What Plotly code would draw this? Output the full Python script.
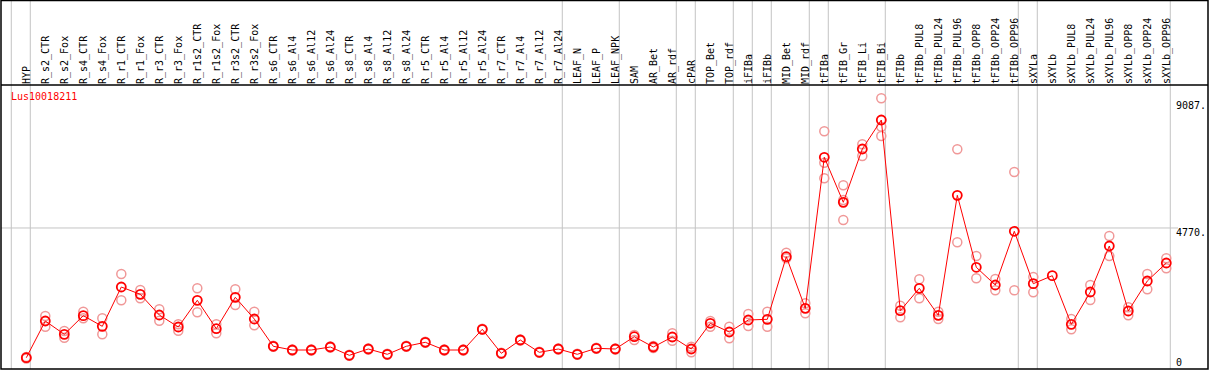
import plotly.graph_objects as go

gene = "Lus10018211"

categories = [
    "HYP", "R_s2_CTR", "R_s2_Fox", "R_s4_CTR", "R_s4_Fox", "R_r1_CTR", "R_r1_Fox",
    "R_r3_CTR", "R_r3_Fox", "R_r1s2_CTR", "R_r1s2_Fox", "R_r3s2_CTR", "R_r3s2_Fox",
    "R_s6_CTR", "R_s6_Al4", "R_s6_Al12", "R_s6_Al24", "R_s8_CTR", "R_s8_Al4",
    "R_s8_Al12", "R_s8_Al24", "R_r5_CTR", "R_r5_Al4", "R_r5_Al12", "R_r5_Al24",
    "R_r7_CTR", "R_r7_Al4", "R_r7_Al12", "R_r7_Al24", "LEAF_N", "LEAF_P", "LEAF_NPK",
    "SAM", "AR_Bet", "AR_rdf", "cPAR", "TOP_Bet", "TOP_rdf", "iFIBa", "iFIBb",
    "MID_Bet", "MID_rdf", "tFIBa", "tFIB_Gr", "tFIB_Li", "tFIB_Bi", "tFIBb",
    "tFIBb_PUL8", "tFIBb_PUL24", "tFIBb_PUL96", "tFIBb_OPP8", "tFIBb_OPP24",
    "tFIBb_OPP96", "sXYLa", "sXYLb", "sXYLb_PUL8", "sXYLb_PUL24", "sXYLb_PUL96",
    "sXYLb_OPP8", "sXYLb_OPP24", "sXYLb_OPP96",
]

mean_vals = [
    360, 1607, 1155, 1789, 1427, 2763, 2515, 1812, 1404, 2311, 1346, 2413, 1676,
    748, 622, 622, 724, 442, 656, 476, 748, 884, 622, 622, 1326, 510, 962, 544, 656,
    476, 680, 656, 1074, 724, 1064, 656, 1530, 1234, 1642, 1665, 3793, 2039,
    7172, 5642, 7454, 8440, 1958, 2719, 1801, 5880, 3433, 2831, 4657,
    2876, 3148, 1495, 2593, 4157, 1948, 2967, 3579,
]

rep_a = [
    385, 1780, 1268, 1925, 1699, 3205, 2661, 2005, 1495, 2719, 1495, 2685, 1925,
    765, 640, 640, 740, 460, 675, 495, 765, 900, 640, 640, 1345, 530, 980, 560, 675,
    495, 700, 675, 1132, 760, 1190, 734, 1608, 1414, 1846, 1925, 3929, 2209,
    8056, 6220, 7614, 9177, 2128, 3025, 1925, 7444, 3817, 3035, 6672,
    3103, None, 1676, 2831, 4497, 2073, 3205, 3739,
]

rep_b = [
    335, 1415, 1041, 1699, 1155, 2311, 2379, 1618, 1278, 1903, 1190, 2152, 1461,
    730, 605, 605, 705, 425, 640, 460, 730, 865, 605, 605, 1310, 495, 945, 525, 640,
    460, 665, 640, 962, 690, 938, 544, 1414, 1020, 1438, 1414, 3739, 1869,
    6989, 5721, 7216, 8212, 1733, 2379, 1676, 4283, 3059, 2651, 2651,
    2583, None, 1326, 2322, 3817, 1801, 2685, 3399,
]

rep_c = [None] * 42 + [6458, 5041, None, 7896] + [None] * 15

group_breaks = [-1, 0, 28, 31, 34, 35, 37, 38, 39, 41, 42, 45, 52, 53, 60]

ytick_vals = [4770, 9087]
ytick_text = ["4770.", "9087."]
ytick_zero = [0]
ytick_zero_text = ["0"]

# ---- layout geometry (pixels) ----
W, H = 1209, 370
PL, PR = 1, 1208          # plot left / right pixel
PT, PB = 85, 369          # plot top / bottom pixel
X0_PX, STEP = 26.3, 19.0  # pixel of first category, step per category
ZERO_PX, PX_PER_UNIT = 368.3, 0.02942

xr = [(PL - X0_PX) / STEP, (PR - X0_PX) / STEP]
yr = [-(PB - ZERO_PX) / PX_PER_UNIT, (ZERO_PX - PT) / PX_PER_UNIT]
ph = PB - PT
top_paper = (PB - 0.5) / ph
BREAK_OFF = 0.21

MONO = "DejaVu Sans Mono"
RED = "#ff0000"
PINK = "#f09898"
GREY = "#c4c4c4"

xs = list(range(len(categories)))

fig = go.Figure()

for reps in (rep_a, rep_b, rep_c):
    rx = [x for x, v in zip(xs, reps) if v is not None]
    ry = [v for v in reps if v is not None]
    fig.add_trace(go.Scatter(
        x=rx, y=ry, mode="markers", showlegend=False, hoverinfo="skip",
        marker=dict(symbol="circle-open", size=9, color=PINK, line=dict(width=1.5, color=PINK)),
    ))

fig.add_trace(go.Scatter(
    x=xs, y=mean_vals, mode="lines+markers", showlegend=False,
    line=dict(color=RED, width=1),
    marker=dict(symbol="circle-open", size=9, color=RED, line=dict(width=1.8, color=RED)),
))

shapes = []
for k in group_breaks:
    shapes.append(dict(type="line", xref="x", yref="paper",
                       x0=k + BREAK_OFF, x1=k + BREAK_OFF, y0=0, y1=top_paper,
                       line=dict(color=GREY, width=1), layer="below"))
# horizontal grid line at 4770
shapes.append(dict(type="line", xref="paper", yref="y",
                   x0=0, x1=(1178 - PL) / (PR - PL), y0=ytick_vals[0], y1=ytick_vals[0],
                   line=dict(color=GREY, width=1), layer="below"))
# frame
shapes.append(dict(type="rect", xref="paper", yref="paper", x0=0, x1=1, y0=0, y1=top_paper,
                   line=dict(color="black", width=1.5)))
shapes.append(dict(type="line", xref="paper", yref="paper", x0=0, x1=1, y0=1, y1=1,
                   line=dict(color="black", width=1.5)))

ypos = (1175 - PL) / (PR - PL)

fig.update_layout(
    width=W, height=H,
    margin=dict(l=PL, r=W - PR, t=PT, b=H - PB, pad=0, autoexpand=False),
    paper_bgcolor="white", plot_bgcolor="rgba(0,0,0,0)",
    font=dict(family=MONO, size=10, color="black"),
    xaxis=dict(range=xr, side="top", tickmode="array", tickvals=xs, ticktext=categories,
               tickangle=-90, showgrid=False, zeroline=False, showline=False, ticks="",
               automargin=False,
               tickfont=dict(family=MONO, size=10, color="black"), ticklabelstandoff=0),
    yaxis=dict(range=yr, side="right", anchor="free", position=ypos,
               tickmode="array", tickvals=ytick_vals, ticktext=ytick_text,
               showgrid=False, zeroline=False, showline=False, ticks="",
               ticklabeloverflow="allow", automargin=False,
               ticklabelshift=5, tickfont=dict(family=MONO, size=10, color="black")),
    yaxis2=dict(range=yr, overlaying="y", side="right", anchor="free", position=ypos,
                tickmode="array", tickvals=ytick_zero, ticktext=ytick_zero_text,
                showgrid=False, zeroline=False, showline=False, ticks="",
                ticklabeloverflow="allow", automargin=False,
                ticklabelshift=-6, tickfont=dict(family=MONO, size=10, color="black")),
    shapes=shapes,
    annotations=[dict(text=gene, xref="paper", yref="paper", x=(9 - PL) / (PR - PL),
                      y=(PB - 96.5) / ph, xanchor="left", yanchor="middle", showarrow=False,
                      font=dict(family=MONO, size=10, color=RED))],
    showlegend=False,
)
# invisible point to activate yaxis2
fig.add_trace(go.Scatter(x=[xs[0]], y=[ytick_zero[0]], yaxis="y2", mode="markers",
                         marker=dict(opacity=0), showlegend=False, hoverinfo="skip"))

fig.write_html(
    "out.html",
    config={"displayModeBar": False},
    post_script="document.body.style.margin='0';document.body.style.padding='0';"
                "document.body.style.overflow='hidden';",
)
